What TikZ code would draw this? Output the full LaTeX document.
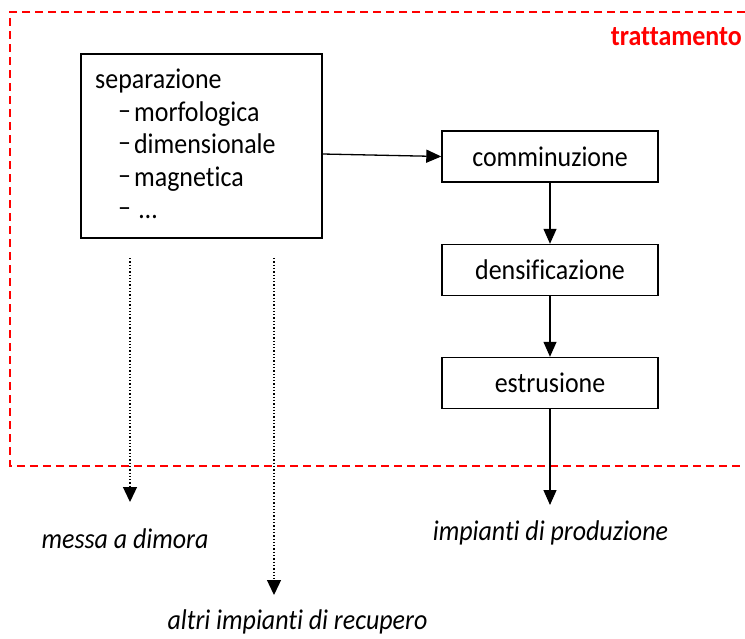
\documentclass[tikz,border=0pt]{standalone}
\usepackage{fontspec}
\setmainfont[Ligatures={NoCommon},FakeStretch=0.91]{Carlito}
\usetikzlibrary{arrows.meta}
\newcommand{\fsz}{\fontsize{28.5}{32}\selectfont}
\begin{document}
\begin{tikzpicture}[x=1pt,y=-1pt,
  every node/.style={inner sep=0pt, font=\fsz},
  procbox/.style={draw, line width=1.4pt, minimum width=216pt, minimum height=51pt},
  arr/.style={line width=1.3pt, -{Triangle[length=15pt,width=13pt]}},
  dotarr/.style={line width=1.3pt, dotted, -{Triangle[length=15pt,width=14pt]}},
  frame/.style={red, line width=1.5pt, dash pattern=on 8pt off 5pt},
  lab/.style={font=\fsz\itshape, anchor=base},
  item/.style={anchor=base west}]
\useasboundingbox (0,0) rectangle (745,638);
% treatment frame
\draw[frame] (745,12) -- (10,12) -- (10,466) -- (745,466);
\node[anchor=base east, text=red, font=\fsz\bfseries] (tratt) at (742,45) {trattamento};
% separation box
\node[draw, line width=1.4pt, minimum width=241pt, minimum height=184pt] (sep) at (201.5,146) {};
\node[item] (s0) at (95,88) {separazione};
\node[item] (s1) at (118,121) {\raisebox{2pt}{–}\kern3pt morfologica};
\node[item] (s2) at (118,153) {\raisebox{2pt}{–}\kern3pt dimensionale};
\node[item] (s3) at (118,186) {\raisebox{2pt}{–}\kern3pt magnetica};
\node[item] (s4) at (118,218) {\raisebox{2pt}{–}\kern8pt …};
% process boxes
\node[procbox] (comm) at (550,156.5) {comminuzione};
\node[procbox] (dens) at (550,270) {densificazione};
\node[procbox] (estr) at (550,383) {estrusione};
% outputs
\coordinate (d1s) at (130,258);
\coordinate (d1e) at (130,502);
\coordinate (d2s) at (274,258);
\coordinate (d2e) at (274,595);
\coordinate (pe) at (550,505);
\node[lab] (messa) at (125,548) {messa a dimora};
\node[lab] (impianti) at (550.5,540) {impianti di produzione};
\node[lab] (altri) at (297.5,629) {altri impianti di recupero};
% connectors
\draw[arr] ([yshift=-8pt]sep.east) -- (comm.west);
\draw[arr] (comm) -- (dens);
\draw[arr] (dens) -- (estr);
\draw[arr] (estr) -- (pe);
\draw[dotarr] (d1s) -- (d1e);
\draw[dotarr] (d2s) -- (d2e);
\end{tikzpicture}
\end{document}
